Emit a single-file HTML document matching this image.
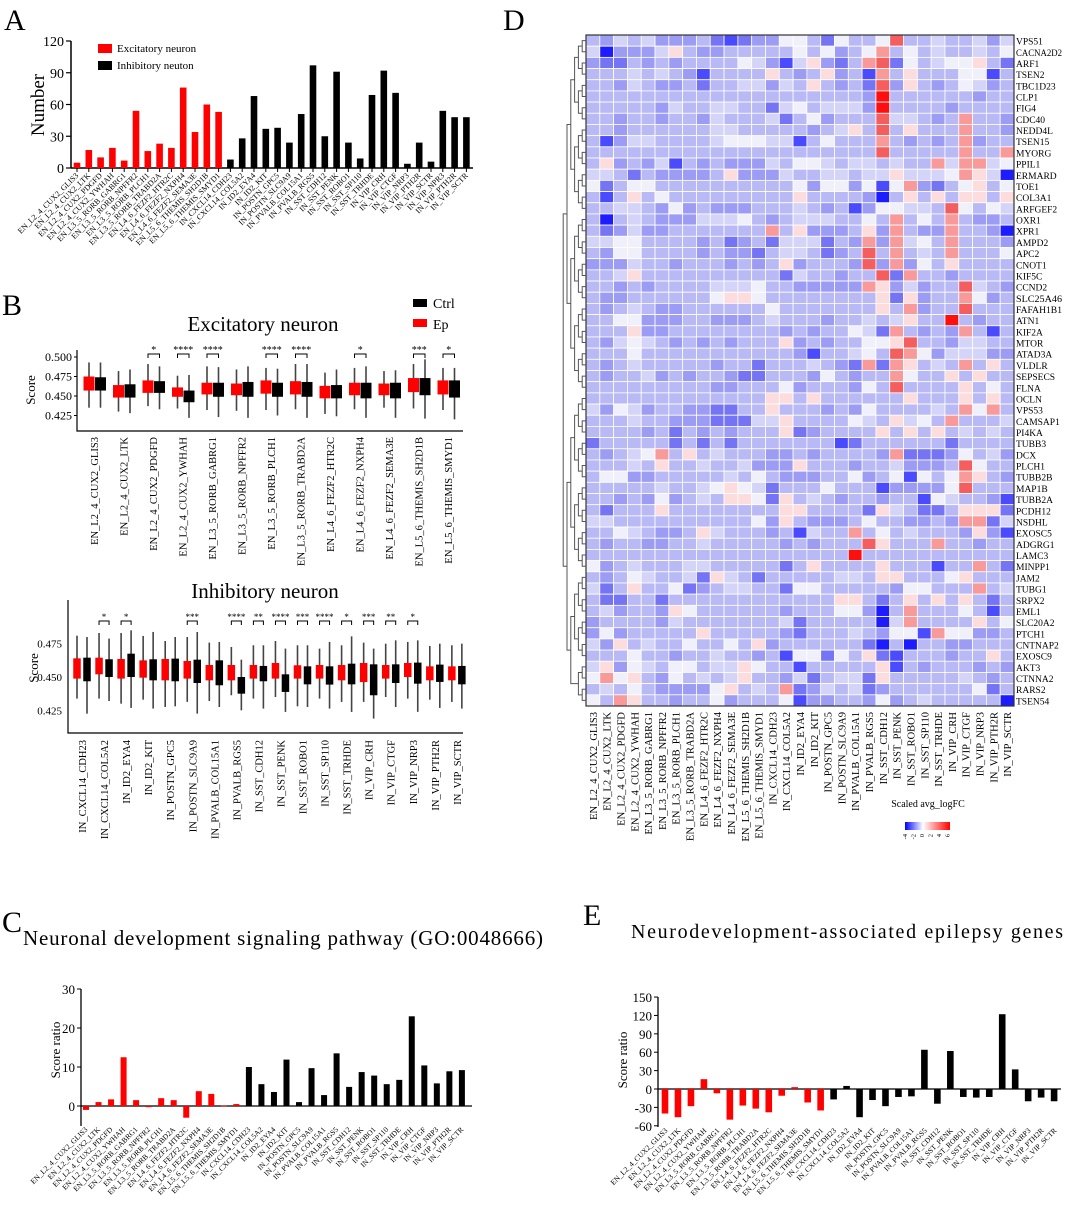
<!DOCTYPE html>
<html><head><meta charset="utf-8"><style>
html,body{margin:0;padding:0;background:#fff}
svg{display:block;font-family:"Liberation Serif",serif}
</style></head><body>
<svg id="fig" width="1065" height="1215" viewBox="0 0 1065 1215" xmlns="http://www.w3.org/2000/svg">
<rect width="1065" height="1215" fill="#fff"/>
<text x="4" y="30" font-size="30">A</text>
<text x="2" y="315" font-size="30">B</text>
<text x="2" y="932" font-size="30">C</text>
<text x="503" y="30" font-size="30">D</text>
<text x="583" y="925" font-size="30">E</text>
<text x="23" y="945" font-size="21" textLength="520">Neuronal development signaling pathway (GO:0048666)</text>
<text x="631" y="938" font-size="20" textLength="432">Neurodevelopment-associated epilepsy genes</text>
<text transform="translate(44,105) rotate(-90)" text-anchor="middle" font-size="19">Number</text>
<rect x="98" y="44" width="14" height="9" fill="#f00"/>
<text x="117" y="52" font-size="11">Excitatory neuron</text>
<rect x="98" y="61" width="14" height="9" fill="#000"/>
<text x="117" y="69" font-size="11">Inhibitory neuton</text>
<text x="263" y="331" text-anchor="middle" font-size="21">Excitatory neuron</text>
<text x="265" y="598" text-anchor="middle" font-size="21">Inhibitory neuron</text>
<rect x="413" y="299" width="14" height="8" fill="#000"/>
<text x="433" y="308" font-size="14">Ctrl</text>
<rect x="413" y="319" width="14" height="8" fill="#f00"/>
<text x="433" y="329" font-size="14">Ep</text>
<text transform="translate(35,390) rotate(-90)" text-anchor="middle" font-size="13">Score</text>
<text transform="translate(38,668) rotate(-90)" text-anchor="middle" font-size="13">Score</text>
<text transform="translate(60,1050) rotate(-90)" text-anchor="middle" font-size="13">Score ratio</text>
<text transform="translate(627,1060) rotate(-90)" text-anchor="middle" font-size="13">Score ratio</text>
<text x="928" y="807" text-anchor="middle" font-size="10">Scaled avg_logFC</text>
<defs><linearGradient id="cbg" x1="0" x2="1"><stop offset="0" stop-color="#0000ff"/><stop offset="0.4" stop-color="#ffffff"/><stop offset="1" stop-color="#ff0000"/></linearGradient></defs>
<rect x="905" y="822" width="45" height="8" fill="url(#cbg)"/>
<g id="layer"></g>
</svg>
<script>
const enNames=["EN_L2_4_CUX2_GLIS3","EN_L2_4_CUX2_LTK","EN_L2_4_CUX2_PDGFD","EN_L2_4_CUX2_YWHAH","EN_L3_5_RORB_GABRG1","EN_L3_5_RORB_NPFFR2","EN_L3_5_RORB_PLCH1","EN_L3_5_RORB_TRABD2A","EN_L4_6_FEZF2_HTR2C","EN_L4_6_FEZF2_NXPH4","EN_L4_6_FEZF2_SEMA3E","EN_L5_6_THEMIS_SH2D1B","EN_L5_6_THEMIS_SMYD1"];
const inNames=["IN_CXCL14_CDH23","IN_CXCL14_COL5A2","IN_ID2_EYA4","IN_ID2_KIT","IN_POSTN_GPC5","IN_POSTN_SLC9A9","IN_PVALB_COL15A1","IN_PVALB_RGS5","IN_SST_CDH12","IN_SST_PENK","IN_SST_ROBO1","IN_SST_SP110","IN_SST_TRHDE","IN_VIP_CRH","IN_VIP_CTGF","IN_VIP_NRP3","IN_VIP_PTH2R","IN_VIP_SCTR"];
const aExtraNames=["IN_VIP_NPR3","IN_VIP_PTH2R","IN_VIP_SCTR"];
const aTicks=[0,30,60,90,120];
const aEx=[5,17,10,19,7,54,16,23,19,76,34,60,53];
const aIn=[8,28,68,37,38,24,51,97,30,91,24,9,69,92,71,4,24,6,54,48,48];
const cTicks=[0,10,20,30];
const cEx=[-1,1,1.7,12.5,1.5,-0.3,2,1.5,-3,3.8,3.1,0.1,0.5];
const cIn=[10,5.6,3.6,11.9,1,9.7,2.8,13.5,4.9,8.7,7.8,5.6,6.7,23,10.4,5.8,8.9,9.2];
const eTicks=[-60,-30,0,30,60,90,120,150];
const eEx=[-40,-46,-28,16,-7,-50,-27,-32,-38,-11,3,-22,-35];
const eIn=[-17,5,-46,-18,-28,-13,-12,64,-24,62,-13,-14,-13,122,32,-20,-14,-20];
const bExTicks=[0.500,0.475,0.450,0.425];
const exEpQ3=[.475,.464,.470,.461,.467,.466,.470,.469,.463,.467,.466,.473,.470];
const exEpQ1=[.457,.448,.454,.449,.452,.451,.453,.452,.447,.451,.451,.455,.452];
const exEpHi=[.493,.482,.491,.476,.488,.484,.486,.491,.480,.486,.482,.491,.486];
const exEpLo=[.435,.430,.437,.434,.432,.431,.432,.433,.427,.433,.435,.434,.432];
const exCtQ3=[.474,.465,.469,.457,.467,.468,.467,.468,.464,.467,.467,.473,.470];
const exCtQ1=[.457,.448,.454,.442,.449,.449,.449,.449,.447,.447,.447,.451,.448];
const exCtHi=[.493,.484,.488,.477,.487,.488,.485,.491,.484,.488,.483,.497,.486];
const exCtLo=[.435,.428,.433,.422,.423,.422,.425,.422,.424,.422,.422,.421,.420];
const exStars=["","","*","****","****","","****","****","","*","","***","*"];
const bInTicks=[0.475,0.450,0.425];
const inEpQ3=[.464,.4645,.4635,.4625,.4635,.462,.459,.459,.459,.4605,.4588,.459,.459,.4605,.459,.4605,.458,.458];
const inEpQ1=[.4488,.452,.4488,.4495,.4475,.4488,.4475,.4475,.4488,.4488,.4488,.4488,.4475,.4462,.4488,.450,.4475,.4475];
const inEpHi=[.481,.483,.483,.4808,.477,.480,.4758,.4725,.4738,.477,.4738,.4713,.4738,.4758,.475,.4763,.4733,.4738];
const inEpLo=[.4338,.4338,.430,.433,.4275,.4313,.432,.4363,.4338,.435,.428,.4338,.4313,.4313,.435,.4338,.433,.4313];
const inCtQ3=[.4645,.4633,.4675,.4633,.4638,.463,.4625,.450,.4583,.452,.458,.458,.460,.4595,.4595,.4608,.4593,.4583];
const inCtQ1=[.4468,.450,.450,.4475,.4468,.4455,.4438,.4375,.4468,.4388,.4445,.4443,.4445,.4363,.4455,.445,.4463,.4445];
const inCtHi=[.480,.4788,.485,.4838,.480,.4838,.4763,.463,.4738,.4713,.4738,.4763,.4805,.4713,.4775,.4775,.475,.475];
const inCtLo=[.4225,.432,.4268,.4263,.428,.4225,.4275,.425,.4263,.4238,.4275,.4263,.4238,.4188,.4275,.4238,.4268,.4263];
const inStars=["","*","*","","","***","","****","**","****","***","****","*","***","**","*","",""];
const genes=["VPS51","CACNA2D2","ARF1","TSEN2","TBC1D23","CLP1","FIG4","CDC40","NEDD4L","TSEN15","MYORG","PPIL1","ERMARD","TOE1","COL3A1","ARFGEF2","OXR1","XPR1","AMPD2","APC2","CNOT1","KIF5C","CCND2","SLC25A46","FAFAH1B1","ATN1","KIF2A","MTOR","ATAD3A","VLDLR","SEPSECS","FLNA","OCLN","VPS53","CAMSAP1","PI4KA","TUBB3","DCX","PLCH1","TUBB2B","MAP1B","TUBB2A","PCDH12","NSDHL","EXOSC5","ADGRG1","LAMC3","MINPP1","JAM2","TUBG1","SRPX2","EML1","SLC20A2","PTCH1","CNTNAP2","EXOSC9","AKT3","CTNNA2","RARS2","TSEN54"];
const heatRows=[
"4354533342123366426446944544535","5033357433444446463468464544546","3224343444465315732489264566742","4445454314444743473418474446614",
"4435433424455354743429374346534","444444444444444444443X444444344","444443544554425645553X444434444","4434434435444524634449554348443",
"4434444445544444345749474448443","4135544445666551464448434348344","4444444444444444444449444448448","4734351434333546654554544858856",
"5542433334733354455455755568750","6246644444444446366361683246746","4147464444444447444430474747747","4455436343334445434136655496465",
"4045433355564345554464846484334","4235334444444847333473843384430","5566444434234255524383856484443","4366444434332455423494845484446",
"3335443444343473444393836474444","4457444444444425443449284434444","4434344445556443333387353449543","4334444446776444444447273448634",
"4345433444444644444447483449444","44663334433345444344545744X4344","4447334444444434344652843438414","4356543434344473434466794435544",
"4446444444444443144564986355533","4345444443442444543282874548474","4344534344322444364344864474744","4444444443344463444364944447464",
"4444444444444774744444474447474","5365344332244744434364444548684","4445443332225574444654756484445","4444342434344472344447474745454",
"2444442424244444441244444424444","4345684745444334344443822236453","4445474454453337444344533349644","4663344444546433344634616468743",
"4444454456765244464441333369444","4434363454776274543443441654431","4244474444444477444427542247772","5544444444446374333464433438825",
"4465433475444341544846454443731","4344334454444434344497444844344","4444444444444444444X44444444444","6345444554444424744447444144842",
"4346544527542444445547744467444","5247446234554426644444366444845","4224424444444444447742474747424","4534437644444434446630484446414",
"3444435444444452444440584444746","3634444474444432444543661866334","5374544644647344444420404433444","4446443445443416626472144434474",
"5736546645576441444447143444343","6867436454574435245527444445434","4546433336745482354523444444624","6487443446344461334436345444440"];
const levelColors={"0":"#1c1cff","1":"#4a4aff","2":"#7474f4","3":"#9c9cf4","4":"#b9b9f5","5":"#d4d4f8","6":"#f0f0fb","7":"#fcdcdc","8":"#f99a9a","9":"#f55e5e","X":"#ff0e0e"};

const NS="http://www.w3.org/2000/svg";
const layer=document.getElementById('layer');
function mk(tag,attrs){const e=document.createElementNS(NS,tag);for(const k in attrs)e.setAttribute(k,attrs[k]);layer.appendChild(e);return e;}
function txt(x,y,s,size,anchor,rot){const t=mk('text',{x:0,y:0,'font-size':size,'text-anchor':anchor||'start',transform:'translate('+x+','+y+')'+(rot?' rotate('+rot+')':'')});t.textContent=s;return t;}

/* ---------- Panel A ---------- */
const aY=v=>168-v*(127/120);
const aX=i=>77+i*11.8;
let e=mk('line',{x1:71,y1:41,x2:71,y2:168,stroke:'#000','stroke-width':1.5});


e=mk('line',{x1:71,y1:168,x2:473,y2:168,stroke:'#000','stroke-width':1.5});


aTicks.forEach(t=>{
  let l=mk('line',{x1:66,y1:aY(t),x2:71,y2:aY(t),stroke:'#000','stroke-width':1.2});
  
  
  let tt=txt(64,aY(t)+5,String(t),14,'end');
  
  
});
const aLabels=enNames.concat(inNames,aExtraNames);
const aVals=aEx.concat(aIn);
aVals.forEach((v,i)=>{
  const r=mk('rect',{x:aX(i)-3.3,y:aY(v),width:6.6,height:168-aY(v),fill:i<aEx.length?'#f00':'#000'});
  
  
  const tk=mk('line',{x1:aX(i),y1:168,x2:aX(i),y2:172,stroke:'#000'});
  
  
  const t=txt(aX(i)+2,176,aLabels[i],8,'end',-45);
  
  
});

/* ---------- Panel B excitatory ---------- */
const bxY=v=>396-(v-0.45)*780;
const bxX=i=>89+i*29.5;
e=mk('polyline',{points:'77,350 77,431 463,431',fill:'none',stroke:'#000','stroke-width':1.2});


bExTicks.forEach(t=>{
  const l=mk('line',{x1:74,y1:bxY(t),x2:77,y2:bxY(t),stroke:'#000'});
  
  
  const tt=txt(72,bxY(t)+4,t.toFixed(3),12,'end');
  
  
});
function box(cx,w,q1,q3,lo,hi,col,Y,name){
  const wl=mk('line',{x1:cx,y1:Y(hi),x2:cx,y2:Y(lo),stroke:'#444','stroke-width':1.6});
  
  
  const r=mk('rect',{x:cx-w/2,y:Y(q3),width:w,height:Y(q1)-Y(q3),fill:col});
  
  
}
function bracket(x1,x2,y,s,size){
  const p=mk('polyline',{points:x1+','+(y+4)+' '+x1+','+y+' '+x2+','+y+' '+x2+','+(y+4),fill:'none',stroke:'#000','stroke-width':1});
  
  
  const t=txt((x1+x2)/2,y-1,s,size,'middle');
  
  
}
enNames.forEach((n,i)=>{
  const xr=bxX(i),xb=bxX(i)+11.5;
  box(xr,11,exEpQ1[i],exEpQ3[i],exEpLo[i],exEpHi[i],'#f00',bxY,'b-ex-ep');
  box(xb,11,exCtQ1[i],exCtQ3[i],exCtLo[i],exCtHi[i],'#000',bxY,'b-ex-ctrl');
  if(exStars[i])bracket(xr,xb,354,exStars[i],10);
  const t=txt(xr+9,437,n,10.5,'end',-90);
  
  
});

/* ---------- Panel B inhibitory ---------- */
const biY=v=>677-(v-0.45)*1333;
const biX=i=>77+i*22.05;
e=mk('polyline',{points:'68,600 68,733 463,733',fill:'none',stroke:'#000','stroke-width':1.2});


bInTicks.forEach(t=>{
  const tt=txt(62,biY(t)+4,t.toFixed(3),11,'end');
  
  
});
inNames.forEach((n,i)=>{
  const xr=biX(i),xb=biX(i)+10;
  box(xr,7.5,inEpQ1[i],inEpQ3[i],inEpLo[i],inEpHi[i],'#f00',biY,'b-in-ep');
  box(xb,7.5,inCtQ1[i],inCtQ3[i],inCtLo[i],inCtHi[i],'#000',biY,'b-in-ctrl');
  if(inStars[i])bracket(xr,xb,621,inStars[i],9);
  const t=txt(xr+9,740,n,10.5,'end',-90);
  
  
});

/* ---------- Panel C ---------- */
const cY=v=>1106-v*3.9;
const cX=i=>86+i*12.53;
e=mk('line',{x1:81,y1:989,x2:81,y2:1126,stroke:'#000','stroke-width':1.3});


e=mk('line',{x1:81,y1:1106,x2:472,y2:1106,stroke:'#000','stroke-width':1.3});


cTicks.forEach(t=>{
  const l=mk('line',{x1:77,y1:cY(t),x2:81,y2:cY(t),stroke:'#000'});
  
  
  const tt=txt(75,cY(t)+5,String(t),13,'end');
  
  
});
const allNames=enNames.concat(inNames);
cEx.concat(cIn).forEach((v,i)=>{
  const y0=Math.min(cY(v),cY(0)),h=Math.abs(cY(v)-cY(0));
  const r=mk('rect',{x:cX(i)-3,y:y0,width:6,height:Math.max(h,0.6),fill:i<cEx.length?'#f00':'#000'});
  
  
  const t=txt(cX(i)+2,1130,allNames[i],7.5,'end',-45);
  
  
});

/* ---------- Panel E ---------- */
const eY=v=>1089-v*0.613;
const eX=i=>665+i*12.97;
e=mk('line',{x1:658,y1:997,x2:658,y2:1127,stroke:'#000','stroke-width':1.3});


e=mk('line',{x1:658,y1:1089,x2:1061,y2:1089,stroke:'#000','stroke-width':1.3});


eTicks.forEach(t=>{
  const l=mk('line',{x1:654,y1:eY(t),x2:658,y2:eY(t),stroke:'#000'});
  
  
  const tt=txt(652,eY(t)+5,String(t),13,'end');
  
  
});
eEx.concat(eIn).forEach((v,i)=>{
  const y0=Math.min(eY(v),eY(0)),h=Math.abs(eY(v)-eY(0));
  const r=mk('rect',{x:eX(i)-3.3,y:y0,width:6.6,height:h,fill:i<eEx.length?'#f00':'#000'});
  
  
  const t=txt(eX(i)+3,1131,allNames[i],7.5,'end',-45);
  
  
});

/* ---------- Panel D heatmap ---------- */
const hx0=586,hy0=35,cw=428/31,rh=671/60;
heatRows.forEach((row,ri)=>{
  for(let ci=0;ci<31;ci++){
    const c=mk('rect',{x:hx0+ci*cw,y:hy0+ri*rh,width:cw,height:rh,fill:levelColors[row[ci]]||'#b9b9f5',stroke:'#fff','stroke-width':0.8});
    
    
  }
  const t=txt(1016,hy0+ri*rh+rh/2+4,genes[ri],9.5,'start');
  if(genes[ri].length>=8){t.setAttribute('textLength','46');t.setAttribute('lengthAdjust','spacingAndGlyphs');}
  
  
});
e=mk('rect',{x:hx0,y:hy0,width:428,height:671,fill:'none',stroke:'#333','stroke-width':1.2});


allNames.forEach((n,ci)=>{
  const t=txt(hx0+ci*cw+cw/2+4,712,n,10.5,'end',-90);
  
  
});
/* dendrogram (pairwise merge of adjacent rows) */
let nodes=genes.map((g,i)=>({y:hy0+i*rh+rh/2,x:hx0}));
let lvl=0;
while(nodes.length>1){
  lvl++;
  const nx=hx0-lvl*3.8,next=[];
  for(let k=0;k<nodes.length;k+=2){
    if(k+1>=nodes.length){next.push(nodes[k]);continue;}
    const a=nodes[k],b=nodes[k+1];
    const p=mk('polyline',{points:a.x+','+a.y+' '+nx+','+a.y+' '+nx+','+b.y+' '+b.x+','+b.y,fill:'none',stroke:'#555','stroke-width':1});
    
    
    next.push({x:nx,y:(a.y+b.y)/2});
  }
  nodes=next;
}
["-4","-2","0","2","4","6"].forEach((s,k)=>{
  const t=txt(907+k*8.5,834,s,6.5,'end',-90);
  
  
});
</script>
</body></html>
